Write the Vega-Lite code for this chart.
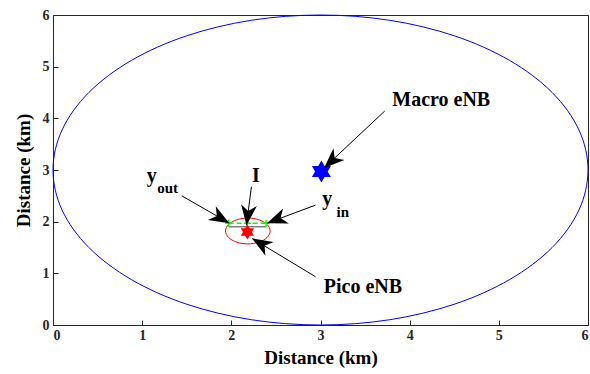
{
  "$schema": "https://vega.github.io/schema/vega-lite/v6.json",
  "width": 535,
  "height": 310,
  "autosize": "none",
  "padding": {"left": 53, "top": 15, "right": 2, "bottom": 49},
  "background": "white",
  "view": {"stroke": "#262626", "strokeWidth": 1},
  "config": {
    "axis": {
      "grid": false,
      "domainColor": "#262626",
      "tickColor": "#262626",
      "tickSize": -5,
      "labelFont": "Liberation Serif",
      "labelFontWeight": "bold",
      "labelFontSize": 14,
      "labelColor": "#262626",
      "titleFont": "Liberation Serif",
      "titleFontWeight": "bold",
      "titleFontSize": 19,
      "titleColor": "#000000"
    }
  },
  "datasets": {
    "macroCell": [
      {"i": 0, "x": 6, "y": 3}, {"i": 1, "x": 5.898, "y": 3.776}, {"i": 2, "x": 5.598, "y": 4.5},
      {"i": 3, "x": 5.121, "y": 5.121}, {"i": 4, "x": 4.5, "y": 5.598}, {"i": 5, "x": 3.776, "y": 5.898},
      {"i": 6, "x": 3, "y": 6}, {"i": 7, "x": 2.224, "y": 5.898}, {"i": 8, "x": 1.5, "y": 5.598},
      {"i": 9, "x": 0.879, "y": 5.121}, {"i": 10, "x": 0.402, "y": 4.5}, {"i": 11, "x": 0.102, "y": 3.776},
      {"i": 12, "x": 0, "y": 3}, {"i": 13, "x": 0.102, "y": 2.224}, {"i": 14, "x": 0.402, "y": 1.5},
      {"i": 15, "x": 0.879, "y": 0.879}, {"i": 16, "x": 1.5, "y": 0.402}, {"i": 17, "x": 2.224, "y": 0.102},
      {"i": 18, "x": 3, "y": 0}, {"i": 19, "x": 3.776, "y": 0.102}, {"i": 20, "x": 4.5, "y": 0.402},
      {"i": 21, "x": 5.121, "y": 0.879}, {"i": 22, "x": 5.598, "y": 1.5}, {"i": 23, "x": 5.898, "y": 2.224}
    ],
    "picoCell": [
      {"i": 0, "x": 2.435, "y": 1.82}, {"i": 1, "x": 2.4015, "y": 1.945}, {"i": 2, "x": 2.31, "y": 2.0365},
      {"i": 3, "x": 2.185, "y": 2.07}, {"i": 4, "x": 2.06, "y": 2.0365}, {"i": 5, "x": 1.9685, "y": 1.945},
      {"i": 6, "x": 1.935, "y": 1.82}, {"i": 7, "x": 1.9685, "y": 1.695}, {"i": 8, "x": 2.06, "y": 1.6035},
      {"i": 9, "x": 2.185, "y": 1.57}, {"i": 10, "x": 2.31, "y": 1.6035}, {"i": 11, "x": 2.4015, "y": 1.695}
    ],
    "arrows": [
      {"name": "yout", "x0": 1.445, "y0": 2.5, "x1": 1.978, "y1": 1.97},
      {"name": "I", "x0": 2.225, "y0": 2.675, "x1": 2.17, "y1": 1.93},
      {"name": "yin", "x0": 2.944, "y0": 2.32, "x1": 2.4, "y1": 1.97},
      {"name": "pico", "x0": 2.944, "y0": 0.934, "x1": 2.233, "y1": 1.676},
      {"name": "macro", "x0": 3.72, "y0": 4.14, "x1": 3.04, "y1": 3.04}
    ]
  },
  "layer": [
    {
      "data": {"name": "macroCell"},
      "mark": {"type": "line", "interpolate": "cardinal-closed", "color": "#0000ff", "strokeWidth": 1},
      "encoding": {
        "x": {"field": "x", "type": "quantitative", "scale": {"domain": [0, 6], "nice": false}, "axis": {"values": [0, 1, 2, 3, 4, 5, 6], "format": "d", "title": "Distance (km)", "labelPadding": 8, "titlePadding": 6}},
        "y": {"field": "y", "type": "quantitative", "scale": {"domain": [0, 6], "nice": false}, "axis": {"values": [0, 1, 2, 3, 4, 5, 6], "format": "d", "title": "Distance (km)", "labelPadding": 9, "titlePadding": 9}},
        "order": {"field": "i", "type": "quantitative"}
      }
    },
    {
      "data": {"name": "picoCell"},
      "mark": {"type": "line", "interpolate": "cardinal-closed", "color": "#ff0000", "strokeWidth": 1},
      "encoding": {
        "x": {"field": "x", "type": "quantitative"},
        "y": {"field": "y", "type": "quantitative"},
        "order": {"field": "i", "type": "quantitative"}
      }
    },
    {
      "data": {"values": [{"xa": 1.97, "xb": 2.39, "y": 1.9}]},
      "mark": {"type": "rule", "color": "#808080", "strokeWidth": 1.5},
      "encoding": {
        "x": {"field": "xa", "type": "quantitative"},
        "x2": {"field": "xb"},
        "y": {"field": "y", "type": "quantitative"}
      }
    },
    {
      "data": {"values": [{"xa": 1.97, "xb": 2.39, "y": 1.97}]},
      "mark": {"type": "rule", "color": "#00ff00", "strokeWidth": 1.5, "strokeDash": [5, 3]},
      "encoding": {
        "x": {"field": "xa", "type": "quantitative"},
        "x2": {"field": "xb"},
        "y": {"field": "y", "type": "quantitative"}
      }
    },
    {
      "data": {"values": [{"x": 1.97, "y": 1.97}, {"x": 2.18, "y": 1.97}, {"x": 2.39, "y": 1.97}]},
      "mark": {"type": "point", "shape": "M-1,0L1,0M0,-1L0,1", "filled": false, "color": "#00ff00", "strokeWidth": 1.5, "size": 50, "opacity": 1},
      "encoding": {
        "x": {"field": "x", "type": "quantitative"},
        "y": {"field": "y", "type": "quantitative"}
      }
    },
    {
      "data": {"values": [{"x": 2.18, "y": 1.8}]},
      "mark": {"type": "point", "shape": "M0,-1L0.289,-0.5L0.866,-0.5L0.577,0L0.866,0.5L0.289,0.5L0,1L-0.289,0.5L-0.866,0.5L-0.577,0L-0.866,-0.5L-0.289,-0.5Z", "filled": true, "color": "#ff0000", "stroke": "#ff0000", "strokeWidth": 1.5, "size": 150, "opacity": 1},
      "encoding": {
        "x": {"field": "x", "type": "quantitative"},
        "y": {"field": "y", "type": "quantitative"}
      }
    },
    {
      "data": {"values": [{"x": 3.01, "y": 2.97}]},
      "mark": {"type": "point", "shape": "M0,-1L0.289,-0.5L0.866,-0.5L0.577,0L0.866,0.5L0.289,0.5L0,1L-0.289,0.5L-0.866,0.5L-0.577,0L-0.866,-0.5L-0.289,-0.5Z", "filled": true, "color": "#0000ff", "size": 480, "opacity": 1},
      "encoding": {
        "x": {"field": "x", "type": "quantitative"},
        "y": {"field": "y", "type": "quantitative"}
      }
    },
    {
      "data": {"name": "arrows"},
      "mark": {"type": "rule", "color": "#000000", "strokeWidth": 1},
      "encoding": {
        "x": {"field": "x0", "type": "quantitative"},
        "y": {"field": "y0", "type": "quantitative"},
        "x2": {"field": "x1"},
        "y2": {"field": "y1"}
      }
    },
    {
      "data": {"name": "arrows"},
      "transform": [{"filter": "datum.name === 'yout'"}],
      "mark": {"type": "point", "shape": "M0,0L1.1,2.8L0,2L-1.1,2.8Z", "filled": true, "color": "#000000", "size": 210, "opacity": 1, "angle": 120},
      "encoding": {"x": {"field": "x1", "type": "quantitative"}, "y": {"field": "y1", "type": "quantitative"}}
    },
    {
      "data": {"name": "arrows"},
      "transform": [{"filter": "datum.name === 'I'"}],
      "mark": {"type": "point", "shape": "M0,0L1.1,2.8L0,2L-1.1,2.8Z", "filled": true, "color": "#000000", "size": 210, "opacity": 1, "angle": 187},
      "encoding": {"x": {"field": "x1", "type": "quantitative"}, "y": {"field": "y1", "type": "quantitative"}}
    },
    {
      "data": {"name": "arrows"},
      "transform": [{"filter": "datum.name === 'yin'"}],
      "mark": {"type": "point", "shape": "M0,0L1.1,2.8L0,2L-1.1,2.8Z", "filled": true, "color": "#000000", "size": 210, "opacity": 1, "angle": 249},
      "encoding": {"x": {"field": "x1", "type": "quantitative"}, "y": {"field": "y1", "type": "quantitative"}}
    },
    {
      "data": {"name": "arrows"},
      "transform": [{"filter": "datum.name === 'pico'"}],
      "mark": {"type": "point", "shape": "M0,0L1.1,2.8L0,2L-1.1,2.8Z", "filled": true, "color": "#000000", "size": 210, "opacity": 1, "angle": 301},
      "encoding": {"x": {"field": "x1", "type": "quantitative"}, "y": {"field": "y1", "type": "quantitative"}}
    },
    {
      "data": {"name": "arrows"},
      "transform": [{"filter": "datum.name === 'macro'"}],
      "mark": {"type": "point", "shape": "M0,0L1.1,2.8L0,2L-1.1,2.8Z", "filled": true, "color": "#000000", "size": 210, "opacity": 1, "angle": 227},
      "encoding": {"x": {"field": "x1", "type": "quantitative"}, "y": {"field": "y1", "type": "quantitative"}}
    },
    {
      "data": {"values": [
        {"label": "Macro eNB", "x": 3.805, "y": 4.236},
        {"label": "Pico eNB", "x": 3.037, "y": 0.613},
        {"label": "I", "x": 2.232, "y": 2.772},
        {"label": "y", "x": 1.052, "y": 2.766},
        {"label": "y", "x": 3.019, "y": 2.33}
      ]},
      "mark": {"type": "text", "align": "left", "baseline": "alphabetic", "font": "Liberation Serif", "fontWeight": "bold", "fontSize": 20, "color": "#000000"},
      "encoding": {
        "x": {"field": "x", "type": "quantitative"},
        "y": {"field": "y", "type": "quantitative"},
        "text": {"field": "label"}
      }
    },
    {
      "data": {"values": [
        {"label": "out", "x": 1.169, "y": 2.563},
        {"label": "in", "x": 3.18, "y": 2.095}
      ]},
      "mark": {"type": "text", "align": "left", "baseline": "alphabetic", "font": "Liberation Serif", "fontWeight": "bold", "fontSize": 15, "color": "#000000"},
      "encoding": {
        "x": {"field": "x", "type": "quantitative"},
        "y": {"field": "y", "type": "quantitative"},
        "text": {"field": "label"}
      }
    }
  ]
}
